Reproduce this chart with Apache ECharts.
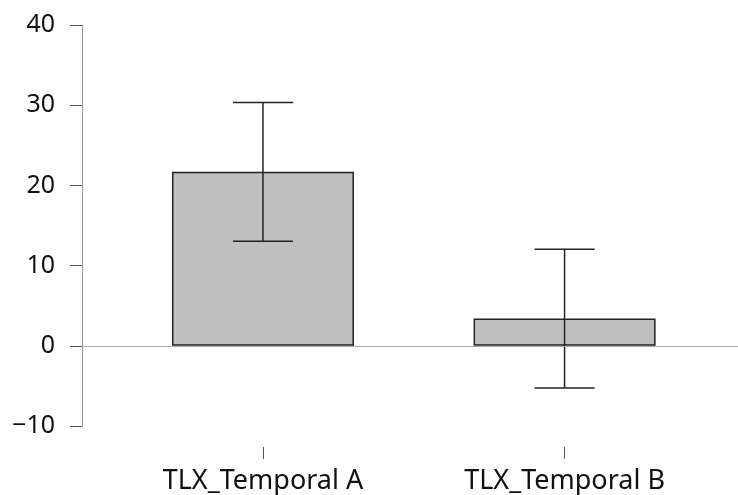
<!DOCTYPE html>
<html>
<head>
<meta charset="utf-8">
<script src="https://cdn.jsdelivr.net/npm/echarts@6/dist/echarts.min.js"></script>
<style>
  html, body { margin: 0; padding: 0; background: #fff; }
  #chart { width: 738px; height: 495px; }
</style>
</head>
<body>
<div id="chart"></div>
<script>
// Conditions and their mean scores
const categories = ['TLX_Temporal A', 'TLX_Temporal B'];
const means = [21.7, 3.4];
// Error bar extents (lower / upper)
const errLower = [13.05, -5.25];
const errUpper = [30.35, 12.05];
// Y axis range and ticks
const yMin = -10;
const yMax = 40;
const yStep = 10;

const positions = categories.map((_, i) => i);

const chart = echarts.init(document.getElementById('chart'), null, { renderer: 'canvas' });

const fontFamily = '"Noto Sans", "DejaVu Sans", sans-serif';

chart.setOption({
  animation: false,
  backgroundColor: '#ffffff',
  grid: { left: 82, right: 0, top: 25, bottom: 68, containLabel: false },
  xAxis: {
    type: 'value',
    min: -0.6,
    max: 1.575,
    position: 'bottom',
    offset: 21,
    axisLine: { show: false, onZero: false },
    splitLine: { show: false },
    axisTick: {
      show: true,
      length: 12,
      customValues: positions,
      lineStyle: { color: '#555', width: 1 }
    },
    axisLabel: {
      show: true,
      customValues: positions,
      formatter: v => categories[Math.round(v)] || '',
      fontFamily: fontFamily,
      fontSize: 27,
      color: '#111',
      margin: 21
    }
  },
  yAxis: {
    type: 'value',
    min: yMin,
    max: yMax,
    interval: yStep,
    axisLine: { show: true, onZero: false, lineStyle: { color: '#999', width: 1 } },
    axisTick: { show: true, length: 12, lineStyle: { color: '#555', width: 1 } },
    splitLine: { show: false },
    axisLabel: {
      fontFamily: fontFamily,
      fontSize: 25,
      color: '#111',
      margin: 27,
      formatter: v => String(v).replace('-', '\u2212')
    }
  },
  series: [
    {
      type: 'bar',
      data: positions.map((p, i) => [p, means[i]]),
      barWidth: 182,
      itemStyle: { color: '#bfbfbf', borderColor: '#222', borderWidth: 1.5 },
      markLine: {
        silent: true,
        symbol: ['none', 'none'],
        label: { show: false },
        lineStyle: { color: '#aaa', type: 'solid', width: 1 },
        data: [{ yAxis: 0 }]
      },
      z: 2
    },
    {
      type: 'custom',
      data: positions.map((p, i) => [p, errLower[i], errUpper[i]]),
      z: 3,
      renderItem: function (params, api) {
        const x = api.value(0);
        const lo = api.coord([x, api.value(1)]);
        const hi = api.coord([x, api.value(2)]);
        const half = 30;
        const style = { stroke: '#222', lineWidth: 1.5 };
        return {
          type: 'group',
          children: [
            { type: 'line', shape: { x1: hi[0], y1: hi[1], x2: lo[0], y2: lo[1] }, style: style },
            { type: 'line', shape: { x1: hi[0] - half, y1: hi[1], x2: hi[0] + half, y2: hi[1] }, style: style },
            { type: 'line', shape: { x1: lo[0] - half, y1: lo[1], x2: lo[0] + half, y2: lo[1] }, style: style }
          ]
        };
      }
    }
  ]
});
</script>
</body>
</html>
